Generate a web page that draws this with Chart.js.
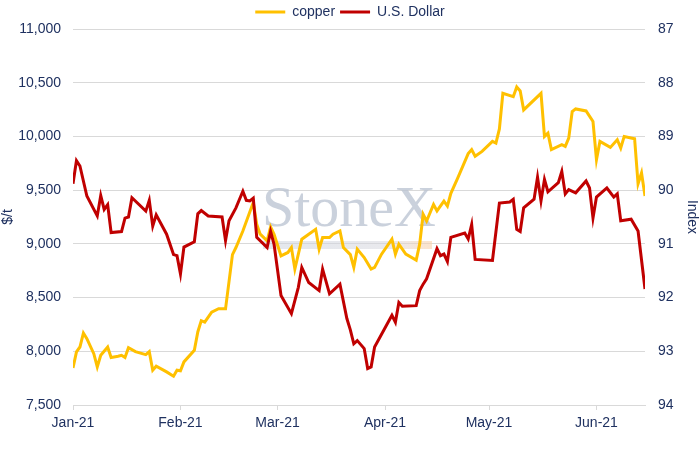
<!DOCTYPE html>
<html>
<head>
<meta charset="utf-8">
<script src="https://cdn.jsdelivr.net/npm/chart.js@4"></script>
<style>
    html, body { margin: 0; padding: 0; background: #ffffff; }
    #wrap { width: 700px; height: 450px; }
</style>
</head>
<body>
<div id="wrap"><canvas id="copperChart"></canvas></div>
<script>
// days counted from 1 Jan 2021
const monthTicks = [0, 31, 59, 90, 120, 151];
const monthLabels = ['Jan-21', 'Feb-21', 'Mar-21', 'Apr-21', 'May-21', 'Jun-21'];

// copper, $/t
const copperDay = [0, 1, 2, 3, 4, 6, 7, 8, 10, 11, 13, 14, 15, 16, 18, 21, 22, 23, 24, 27,
    29, 30, 31, 32, 35, 36, 37, 38, 40, 42, 44, 46, 47, 49, 52, 53, 54, 56, 57, 58,
    60, 62, 63, 64, 65, 66, 68, 70, 71, 72, 74, 75, 77, 78, 80, 81, 82, 84, 86, 87,
    89, 92, 93, 94, 96, 99, 100, 101, 102, 104, 105, 107, 108, 109, 111, 114, 115, 116, 118, 121,
    122, 123, 124, 127, 128, 129, 130, 135, 136, 137, 138, 141, 142, 143, 144, 145, 148, 150, 151, 152,
    155, 157, 158, 159, 162, 163, 164, 165];
const copperPrice = [7845, 7995, 8040, 8170, 8117, 7978, 7855, 7963, 8040, 7942, 7954, 7963, 7942, 8034, 7997, 7969, 7997, 7824, 7861, 7808,
    7768, 7824, 7818, 7901, 8009, 8180, 8285, 8272, 8364, 8396, 8395, 8900, 8966, 9120, 9385, 9182, 9090, 9028, 9157, 9090,
    8889, 8920, 8966, 8766, 8904, 9043, 9090, 9136, 8951, 9059, 9059, 9090, 9120, 8966, 8900, 8781, 8951, 8873, 8766, 8781,
    8904, 9043, 8904, 8997, 8904, 8849, 8997, 9275, 9213, 9367, 9306, 9398, 9352, 9470, 9614, 9840, 9877, 9815, 9861, 9954,
    9938, 10070, 10401, 10370, 10460, 10423, 10247, 10401, 10000, 10031, 9877, 9923, 9907, 9984, 10231, 10256, 10237, 10139, 9784, 9954,
    9898, 9969, 9892, 10000, 9979, 9559, 9660, 9445];

// U.S. Dollar index (right axis, inverted)
const usdDay = [0, 1, 2, 4, 7, 8, 9, 10, 11, 14, 15, 16, 17, 21, 22, 23, 24, 27, 29, 30,
    31, 32, 35, 36, 37, 39, 43, 44, 45, 47, 49, 50, 51, 52, 53, 56, 57, 58, 60, 63,
    65, 66, 68, 71, 72, 74, 77, 79, 80, 81, 82, 84, 85, 86, 87, 92, 93, 94, 95, 99,
    100, 101, 102, 105, 106, 107, 108, 109, 113, 114, 115, 116, 121, 123, 126, 127, 128, 129, 130, 133,
    134, 135, 136, 137, 140, 141, 142, 143, 145, 148, 149, 150, 151, 154, 156, 157, 158, 161, 163, 165];
const usdIndex = [89.88, 89.45, 89.55, 90.11, 90.48, 90.10, 90.36, 90.27, 90.79, 90.77, 90.52, 90.50, 90.14, 90.39, 90.19, 90.67, 90.46, 90.82, 91.20, 91.22,
    91.56, 91.06, 90.96, 90.44, 90.38, 90.48, 90.50, 90.94, 90.57, 90.33, 90.02, 90.19, 90.20, 90.15, 90.88, 91.07, 90.77, 91.01, 91.96, 92.30,
    91.81, 91.44, 91.72, 91.87, 91.47, 91.93, 91.75, 92.39, 92.60, 92.86, 92.80, 92.95, 93.32, 93.29, 92.92, 92.33, 92.46, 92.09, 92.16, 92.15,
    91.87, 91.75, 91.65, 91.09, 91.22, 91.19, 91.33, 90.88, 90.80, 90.91, 90.64, 91.29, 91.31, 90.24, 90.22, 90.17, 90.73, 90.77, 90.33, 90.17,
    89.76, 90.20, 89.80, 90.03, 89.86, 89.65, 90.07, 89.99, 90.05, 89.83, 89.96, 90.52, 90.13, 89.96, 90.13, 90.07, 90.57, 90.54, 90.76, 91.84];

const COPPER_COLOR = '#FFC000';
const USD_COLOR = '#C00000';
const TEXT_COLOR = '#1F3160';
const GRID_COLOR = '#D9D9D9';
const FONT = '"Liberation Sans", Arial, sans-serif';

function toPoints(days, values) {
    return days.map((d, i) => ({ x: d, y: values[i] }));
}

// faint StoneX mark behind the lines
const watermark = {
    id: 'watermark',
    beforeDatasetsDraw(chart) {
        const ctx = chart.ctx;
        ctx.save();
        const grad = ctx.createLinearGradient(263, 0, 432, 0);
        grad.addColorStop(0, 'rgba(205,212,222,0.55)');
        grad.addColorStop(0.75, 'rgba(215,215,222,0.55)');
        grad.addColorStop(1, 'rgba(250,210,170,0.6)');
        ctx.fillStyle = grad;
        ctx.fillRect(263, 241, 169, 8);
        ctx.font = '58px "Liberation Serif", "Times New Roman", serif';
        ctx.fillStyle = 'rgba(184,194,208,0.75)';
        ctx.textBaseline = 'alphabetic';
        ctx.textAlign = 'left';
        ctx.fillText('StoneX', 262, 226);
        ctx.restore();
    }
};

const ctx = document.getElementById('copperChart').getContext('2d');
new Chart(ctx, {
    type: 'line',
    data: {
        datasets: [
            {
                label: 'copper',
                data: toPoints(copperDay, copperPrice),
                borderColor: COPPER_COLOR,
                backgroundColor: COPPER_COLOR,
                borderWidth: 3,
                pointRadius: 0,
                tension: 0,
                order: 2,
                yAxisID: 'y'
            },
            {
                label: 'U.S. Dollar',
                data: toPoints(usdDay, usdIndex),
                borderColor: USD_COLOR,
                backgroundColor: USD_COLOR,
                borderWidth: 3,
                pointRadius: 0,
                tension: 0,
                order: 1, // dollar sits on top of copper
                yAxisID: 'y1'
            }
        ]
    },
    options: {
        responsive: true,
        maintainAspectRatio: false,
        animation: false,
        layout: { padding: { top: 0, left: 0, right: 0, bottom: 0 } },
        plugins: {
            legend: {
                position: 'top',
                labels: {
                    usePointStyle: true,
                    pointStyle: 'line',
                    pointStyleWidth: 30,
                    boxWidth: 30,
                    padding: 5,
                    color: TEXT_COLOR,
                    font: { family: FONT, size: 14 },
                    sort: (a, b) => a.datasetIndex - b.datasetIndex
                }
            },
            tooltip: { enabled: false }
        },
        scales: {
            x: {
                type: 'linear',
                min: 0,
                max: 165,
                afterBuildTicks(axis) {
                    axis.ticks = monthTicks.map(v => ({ value: v }));
                },
                afterFit(axis) { axis.height = 45; },
                ticks: {
                    autoSkip: false,
                    maxRotation: 0,
                    padding: 5,
                    color: TEXT_COLOR,
                    font: { family: FONT, size: 14 },
                    callback: (value) => monthLabels[monthTicks.indexOf(value)]
                },
                grid: { drawOnChartArea: false, drawTicks: true, tickLength: 5, color: GRID_COLOR },
                border: { color: GRID_COLOR }
            },
            y: {
                position: 'left',
                min: 7500,
                max: 11000,
                afterFit(axis) { axis.width = 73; },
                ticks: {
                    stepSize: 500,
                    padding: 12,
                    color: TEXT_COLOR,
                    font: { family: FONT, size: 14 },
                    callback: (value) => value.toLocaleString('en-US')
                },
                grid: { color: GRID_COLOR, drawTicks: false },
                border: { display: false },
                title: {
                    display: true,
                    text: '$/t',
                    color: TEXT_COLOR,
                    font: { family: FONT, size: 14 },
                    padding: { top: 0, bottom: 0 }
                }
            },
            y1: {
                position: 'right',
                reverse: true,
                min: 87,
                max: 94,
                afterFit(axis) { axis.width = 55; },
                ticks: {
                    stepSize: 1,
                    padding: 13,
                    color: TEXT_COLOR,
                    font: { family: FONT, size: 14 }
                },
                grid: { drawOnChartArea: false, drawTicks: false },
                border: { display: false },
                title: {
                    display: true,
                    text: 'Index',
                    color: TEXT_COLOR,
                    font: { family: FONT, size: 14 },
                    padding: { top: 0, bottom: 4 }
                }
            }
        }
    },
    plugins: [watermark]
});
</script>
</body>
</html>
